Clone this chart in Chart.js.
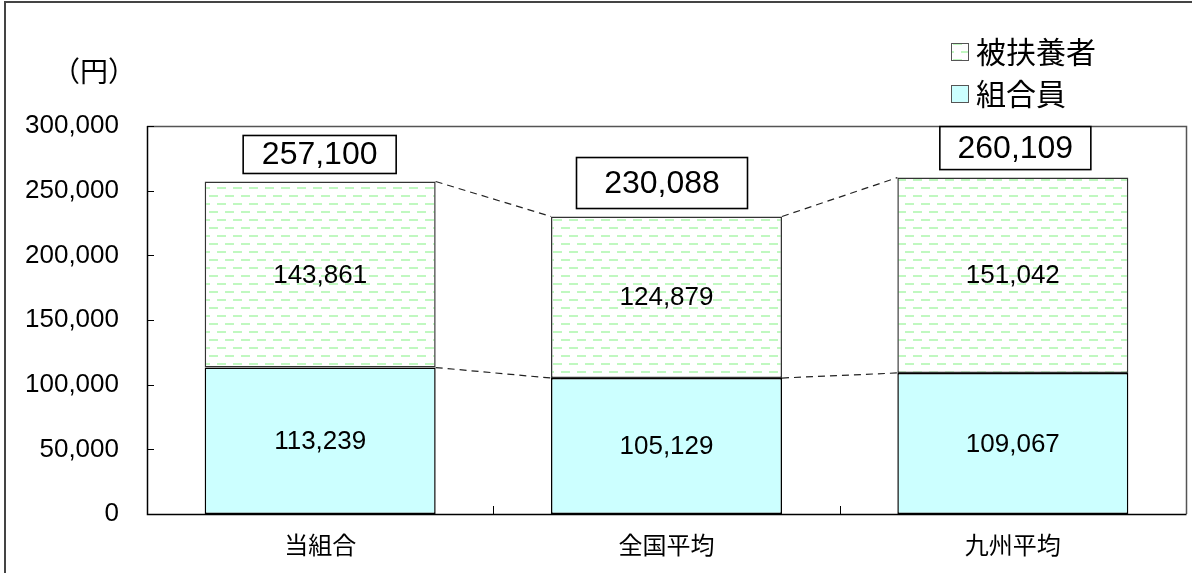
<!DOCTYPE html>
<html>
<head>
<meta charset="utf-8">
<script src="https://cdn.jsdelivr.net/npm/chart.js@4.4.1/dist/chart.umd.min.js"></script>
<style>
html,body{margin:0;padding:0;background:#fff;}
#wrap{position:relative;width:1192px;height:575px;}
</style>
</head>
<body>
<div id="wrap"><canvas id="c" width="1192" height="575"></canvas></div>
<script>
// ---- data ----
const categories = ['当組合', '全国平均', '九州平均'];
const members = [113239, 105129, 109067];      // 組合員
const dependents = [143861, 124879, 151042];   // 被扶養者
const totals = [257100, 230088, 260109];       // labels shown in boxes
const yTicks = [0, 50000, 100000, 150000, 200000, 250000, 300000];
const unitLabel = '（円）';
const seriesNames = ['組合員', '被扶養者'];

// ---- styles ----
const totalBoxStyle = [
  {w: 153, h: 38, dx: -0.5},
  {w: 171, h: 51, dx: -4.5},
  {w: 151, h: 43, dx: 2.5}
];
const CYAN = '#CCFFFF';
const SANS = '"Liberation Sans", Arial, sans-serif';
const CJK = '"Noto Sans CJK JP", "Noto Sans CJK SC", sans-serif';

function makePattern() {
  const t = document.createElement('canvas');
  t.width = 16; t.height = 16;
  const g = t.getContext('2d');
  g.fillStyle = '#ffffff';
  g.fillRect(0, 0, 16, 16);
  g.fillStyle = 'rgb(192,248,192)';
  g.fillRect(1, 3, 9, 2);
  g.fillRect(9, 11, 9, 2);
  g.fillRect(-7, 11, 9, 2);
  return document.getElementById('c').getContext('2d').createPattern(t, 'repeat');
}
const pattern = makePattern();

const fmt = v => v.toLocaleString('en-US');

const decorPlugin = {
  id: 'decor',
  beforeDraw(chart) {
    const ctx = chart.ctx;
    ctx.save();
    ctx.fillStyle = '#fff';
    ctx.fillRect(0, 0, chart.width, chart.height);
    ctx.restore();
  },
  afterDraw(chart) {
    const ctx = chart.ctx;
    const ca = chart.chartArea;
    const xs = chart.scales.x, ys = chart.scales.y;
    const m0 = chart.getDatasetMeta(0), m1 = chart.getDatasetMeta(1);
    ctx.save();

    // outer frame
    ctx.fillStyle = '#444';
    ctx.fillRect(4, 1, 2, 572);
    ctx.fillRect(4, 1, 1188, 2);

    // plot frame
    ctx.strokeStyle = '#555';
    ctx.lineWidth = 1.5;
    ctx.beginPath();
    ctx.moveTo(ca.left, ca.top + 0.5);
    ctx.lineTo(ca.right + 0.5, ca.top + 0.5);
    ctx.lineTo(ca.right + 0.5, ca.bottom);
    ctx.stroke();
    ctx.strokeStyle = '#000';
    ctx.lineWidth = 1.5;
    ctx.beginPath();
    ctx.moveTo(ca.left + 0.5, ca.top);
    ctx.lineTo(ca.left + 0.5, ca.bottom + 0.5);
    ctx.lineTo(ca.right + 0.5, ca.bottom + 0.5);
    ctx.stroke();

    // y ticks inward
    ctx.lineWidth = 1;
    ctx.strokeStyle = '#000';
    ctx.beginPath();
    yTicks.forEach(v => {
      const py = Math.round(ys.getPixelForValue(v)) + 0.5;
      ctx.moveTo(ca.left, py);
      ctx.lineTo(ca.left + 7, py);
    });
    // x ticks at category boundaries, inward
    for (let i = 0; i < categories.length - 1; i++) {
      const px = Math.round((xs.getPixelForValue(i) + xs.getPixelForValue(i + 1)) / 2) + 0.5;
      ctx.moveTo(px, ca.bottom);
      ctx.lineTo(px, ca.bottom - 8);
    }
    ctx.stroke();

    // dashed connectors
    ctx.setLineDash([7, 5]);
    ctx.strokeStyle = '#222';
    ctx.lineWidth = 1.2;
    [m0, m1].forEach(meta => {
      for (let i = 0; i < meta.data.length - 1; i++) {
        const a = meta.data[i], b = meta.data[i + 1];
        ctx.beginPath();
        ctx.moveTo(a.x + a.width / 2, a.y);
        ctx.lineTo(b.x - b.width / 2, b.y);
        ctx.stroke();
      }
    });
    ctx.setLineDash([]);

    // value labels inside segments
    ctx.fillStyle = '#000';
    ctx.font = '26px ' + SANS;
    ctx.textAlign = 'center';
    ctx.textBaseline = 'middle';
    [[m0, members], [m1, dependents]].forEach(([meta, vals]) => {
      meta.data.forEach((bar, i) => {
        ctx.fillText(fmt(vals[i]), bar.x, (bar.y + bar.base) / 2 + 1);
      });
    });

    // total boxes
    m1.data.forEach((bar, i) => {
      const st = totalBoxStyle[i];
      const cx = bar.x + st.dx;
      const bottom = bar.y - 8;
      const top = bottom - st.h;
      ctx.fillStyle = '#fff';
      ctx.fillRect(cx - st.w / 2, top, st.w, st.h);
      ctx.strokeStyle = '#000';
      ctx.lineWidth = 1.6;
      ctx.strokeRect(cx - st.w / 2, top, st.w, st.h);
      ctx.fillStyle = '#000';
      ctx.font = '32px ' + SANS;
      ctx.fillText(fmt(totals[i]), cx, (top + bottom) / 2 + 1);
    });

    // unit label
    ctx.font = '28px ' + CJK;
    ctx.textAlign = 'center';
    ctx.fillText(unitLabel, 94, 71);

    // legend (reverse order: 被扶養者 on top)
    const legendItems = [
      {name: seriesNames[1], fill: pattern, y: 52},
      {name: seriesNames[0], fill: CYAN, y: 94}
    ];
    legendItems.forEach(it => {
      ctx.fillStyle = it.fill;
      ctx.fillRect(951, it.y - 9, 18, 18);
      ctx.strokeStyle = '#555';
      ctx.lineWidth = 1;
      ctx.strokeRect(951.5, it.y - 8.5, 17, 17);
      ctx.fillStyle = '#000';
      ctx.font = '30px ' + CJK;
      ctx.textAlign = 'left';
      ctx.fillText(it.name, 976, it.y);
    });

    ctx.restore();
  }
};

new Chart(document.getElementById('c'), {
  type: 'bar',
  data: {
    labels: categories,
    datasets: [
      {label: seriesNames[0], data: members, backgroundColor: CYAN, borderColor: '#000', borderWidth: 1.5, borderSkipped: false},
      {label: seriesNames[1], data: dependents, backgroundColor: pattern, borderColor: '#333', borderWidth: 1.5, borderSkipped: false}
    ]
  },
  options: {
    responsive: false,
    animation: false,
    devicePixelRatio: 1,
    categoryPercentage: 1,
    barPercentage: 0.667,
    layout: {padding: {left: 0, right: 6, top: 126, bottom: 0}},
    plugins: {legend: {display: false}, tooltip: {enabled: false}},
    scales: {
      x: {
        stacked: true,
        grid: {display: false, drawTicks: false},
        border: {display: false},
        ticks: {color: '#000', font: {family: CJK, size: 24}, padding: 16},
        afterFit(s) { s.height = 61; }
      },
      y: {
        stacked: true,
        min: 0, max: 300000,
        grid: {display: false, drawTicks: false},
        border: {display: false},
        afterBuildTicks(s) { s.ticks = yTicks.map(v => ({value: v})); },
        ticks: {color: '#000', font: {family: SANS, size: 26}, padding: 28, callback: v => fmt(v)},
        afterFit(s) { s.width = 147; }
      }
    }
  },
  plugins: [decorPlugin]
});
</script>
</body>
</html>
